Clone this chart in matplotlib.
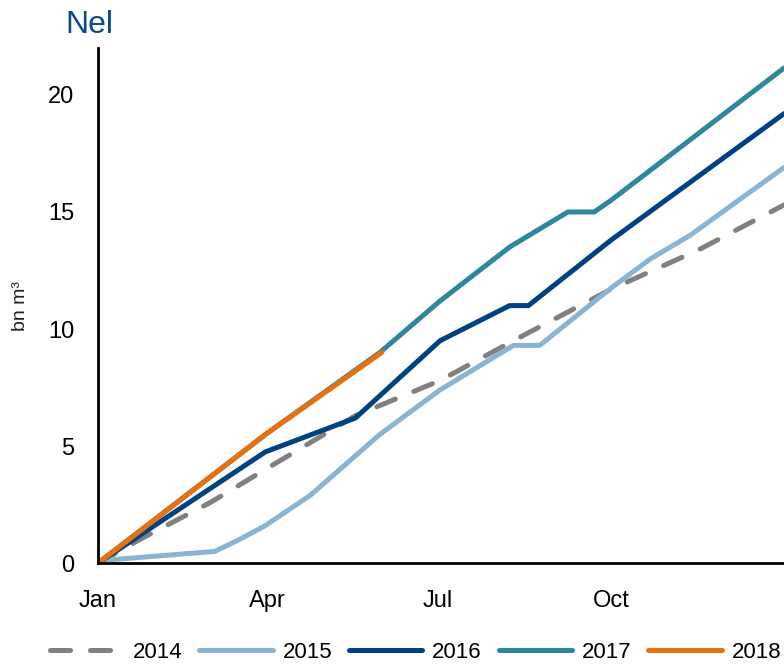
import numpy as np
import matplotlib
matplotlib.use("Agg")
import matplotlib.pyplot as plt

# cumulative flows, bn m3, by day of year
days_2014 = [0, 22, 60, 89, 137, 182, 221, 273, 320, 365]
vals_2014 = [0, 1.0, 2.6, 4.0, 6.3, 7.8, 9.5, 11.7, 13.4, 15.3]

days_2015 = [0, 62, 75, 89, 113, 150, 182, 221, 235, 273, 294, 315, 365]
vals_2015 = [0.1, 0.5, 1.0, 1.6, 2.9, 5.5, 7.4, 9.3, 9.3, 11.75, 13.0, 14.0, 16.9]

days_2016 = [0, 89, 137, 182, 219, 229, 273, 365]
vals_2016 = [0, 4.75, 6.2, 9.5, 11.0, 11.0, 13.8, 19.2]

days_2017 = [0, 90, 150, 182, 219, 250, 264, 273, 365]
vals_2017 = [0, 5.55, 9.0, 11.2, 13.5, 15.0, 15.0, 15.5, 21.15]

days_2018 = [0, 90, 151]
vals_2018 = [0, 5.55, 9.0]

month_ticks = [0, 90, 181, 273]
month_labels = ["Jan", "Apr", "Jul", "Oct"]

plt.rcParams['font.family'] = ['Liberation Sans', 'DejaVu Sans']

fig = plt.figure(figsize=(7.84, 6.68), dpi=100)
ax = fig.add_axes([0.125, 0.157, 0.875, 0.771])

lw = 3.6
common = dict(lw=lw, solid_capstyle="round", dash_capstyle="round")
ax.plot(days_2014, vals_2014, color="#808080", ls=(0, (4, 4)), label="2014", **common)
ax.plot(days_2015, vals_2015, color="#8ab4d4", label="2015", **common)
ax.plot(days_2016, vals_2016, color="#004182", label="2016", **common)
ax.plot(days_2017, vals_2017, color="#2e879c", label="2017", **common)
ax.plot(days_2018, vals_2018, color="#e8700e", label="2018", **common)

ax.set_xlim(0, 365)
ax.set_ylim(0, 22)
ax.set_yticks([0, 5, 10, 15, 20])
ax.set_xticks(month_ticks)
ax.set_xticklabels(month_labels)
ax.tick_params(length=0, labelsize=17)
ax.tick_params(axis='y', pad=17)
ax.tick_params(axis='x', pad=19)
for s in ["top", "right"]:
    ax.spines[s].set_visible(False)
for s in ["left", "bottom"]:
    ax.spines[s].set_linewidth(2)

ax.set_ylabel("bn m³", fontsize=14, color="#222222")
ax.yaxis.set_label_coords(-0.1, 0.5)
fig.text(0.083, 0.962, "Nel", fontsize=23, color="#0a4a8c", va="center", ha="left")

fig.legend(loc="lower center", bbox_to_anchor=(0.53, -0.022), ncol=5, frameon=False,
           fontsize=16, handlelength=3.3, columnspacing=0.75, handletextpad=0.45)

fig.savefig("out.png", dpi=100)
